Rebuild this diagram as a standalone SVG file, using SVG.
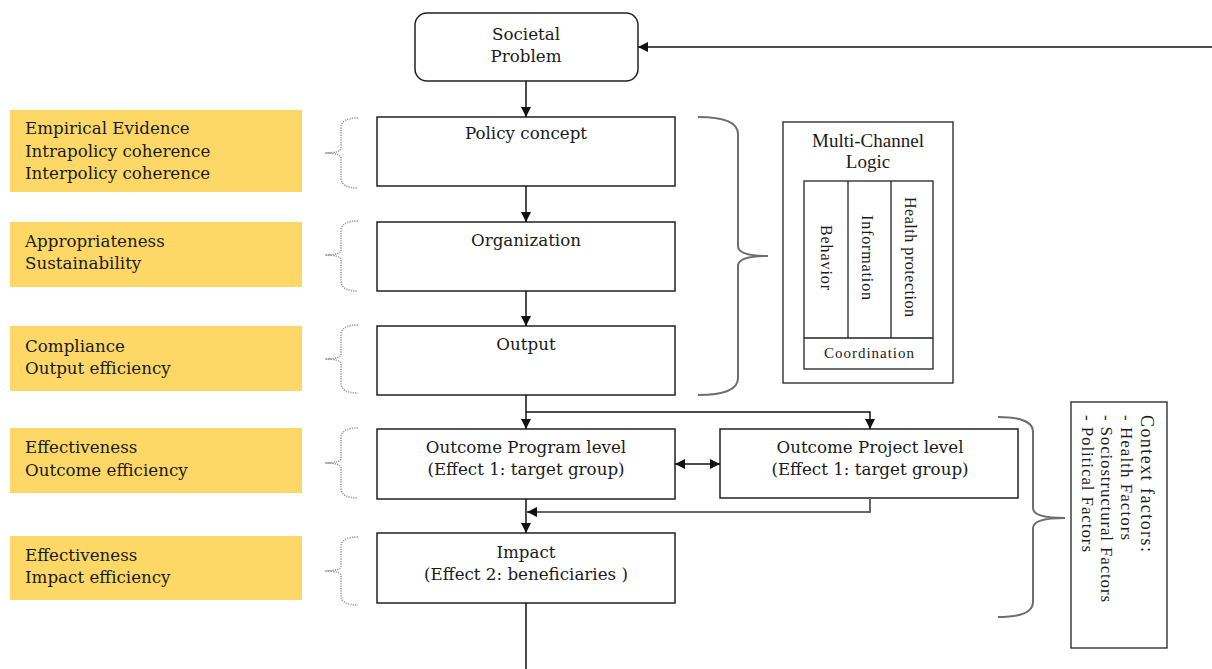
<svg xmlns="http://www.w3.org/2000/svg" width="1212" height="669" viewBox="0 0 1212 669">
<defs>
<style>
.t{font-family:"DejaVu Serif","Liberation Serif",serif;font-size:16.7px;fill:#1a1a1a}
.c{text-anchor:middle}
.tm{font-family:"Liberation Serif","DejaVu Serif",serif;fill:#1a1a1a}
.y{fill:#FDD866;stroke:none}
.box{fill:#fff;stroke:#222;stroke-width:1.5}
.thin{fill:none;stroke:#222;stroke-width:1.3}
.dbrace{fill:none;stroke:#999;stroke-width:1.6;stroke-dasharray:1.2 1.2}
.brace{fill:none;stroke:#6e6e6e;stroke-width:2}
.ln{fill:none;stroke:#111;stroke-width:1.5}
.gl{fill:none;stroke:#666;stroke-width:2}
</style>
<marker id="ah" viewBox="0 0 10 10" refX="10" refY="5" markerWidth="10" markerHeight="10" markerUnits="userSpaceOnUse" orient="auto-start-reverse">
<path d="M0,0 L10,5 L0,10 z" fill="#111"/>
</marker>
</defs>

<g id="criteria">
<g id="crit1"><rect class="y" x="10" y="110" width="292" height="82"/>
<text class="t" x="25" y="134">Empirical Evidence</text>
<text class="t" x="25" y="157">Intrapolicy coherence</text>
<text class="t" x="25" y="179">Interpolicy coherence</text></g>
<g id="crit2"><rect class="y" x="10" y="222" width="292" height="65"/>
<text class="t" x="25" y="247">Appropriateness</text>
<text class="t" x="25" y="269">Sustainability</text></g>
<g id="crit3"><rect class="y" x="10" y="326" width="292" height="65"/>
<text class="t" x="25" y="352">Compliance</text>
<text class="t" x="25" y="374">Output efficiency</text></g>
<g id="crit4"><rect class="y" x="10" y="428" width="292" height="65"/>
<text class="t" x="25" y="453">Effectiveness</text>
<text class="t" x="25" y="476">Outcome efficiency</text></g>
<g id="crit5"><rect class="y" x="10" y="536" width="292" height="64"/>
<text class="t" x="25" y="561">Effectiveness</text>
<text class="t" x="25" y="583">Impact efficiency</text></g>
</g>

<g id="dotted-braces">
<path class="dbrace" d="M358,118 Q341,118 341,128 L341,148 Q341,153 325,153 Q341,153 341,158 L341,178 Q341,188 358,188"/>
<path class="dbrace" d="M358,221 Q341,221 341,231 L341,250 Q341,255 325,255 Q341,255 341,260 L341,281 Q341,291 358,291"/>
<path class="dbrace" d="M358,325 Q341,325 341,335 L341,354 Q341,359 325,359 Q341,359 341,364 L341,383 Q341,393 358,393"/>
<path class="dbrace" d="M358,428 Q341,428 341,438 L341,458 Q341,463 325,463 Q341,463 341,468 L341,488 Q341,498 358,498"/>
<path class="dbrace" d="M358,537 Q341,537 341,547 L341,566 Q341,571 325,571 Q341,571 341,576 L341,595 Q341,605 358,605"/>
</g>

<g id="societal">
<rect class="box" x="415" y="13" width="223" height="68" rx="12"/>
<text class="t c" x="526" y="40">Societal</text>
<text class="t c" x="526" y="62">Problem</text>
</g>
<g id="policy"><rect class="box" x="377" y="117" width="298" height="69"/>
<text class="t c" x="526" y="139">Policy concept</text></g>
<g id="organization"><rect class="box" x="377" y="222" width="298" height="69"/>
<text class="t c" x="526" y="246">Organization</text></g>
<g id="output"><rect class="box" x="377" y="326" width="298" height="69"/>
<text class="t c" x="526" y="350">Output</text></g>
<g id="program"><rect class="box" x="377" y="429" width="298" height="70"/>
<text class="t c" x="526" y="453">Outcome Program level</text>
<text class="t c" x="526" y="475">(Effect 1: target group)</text></g>
<g id="project"><rect class="box" x="720" y="429" width="298" height="69"/>
<text class="t c" x="870" y="453">Outcome Project level</text>
<text class="t c" x="870" y="475">(Effect 1: target group)</text></g>
<g id="impact"><rect class="box" x="377" y="533" width="298" height="70"/>
<text class="t c" x="526" y="558">Impact</text>
<text class="t c" x="526" y="580">(Effect 2: beneficiaries )</text></g>

<g id="big-brace">
<path class="brace" d="M698,117 Q738,117 738,134 L738,246 Q738,256 768,256 Q738,256 738,266 L738,378 Q738,395 698,395"/>
</g>

<g id="multichannel">
<rect class="thin" x="783" y="122" width="170" height="261"/>
<text class="tm c" x="868" y="147" font-size="19">Multi-Channel</text>
<text class="tm c" x="868" y="168" font-size="19">Logic</text>
<rect class="thin" x="804" y="181" width="129" height="188"/>
<line class="thin" x1="848" y1="181" x2="848" y2="338"/>
<line class="thin" x1="891" y1="181" x2="891" y2="338"/>
<line class="thin" x1="804" y1="338" x2="933" y2="338"/>
<text class="tm" font-size="16" transform="translate(821,225) rotate(90)" textLength="65" lengthAdjust="spacing">Behavior</text>
<text class="tm" font-size="16" transform="translate(862,215) rotate(90)" textLength="85" lengthAdjust="spacing">Information</text>
<text class="tm" font-size="16" transform="translate(905,197) rotate(90)" textLength="120" lengthAdjust="spacing">Health protection</text>
<text class="tm c" x="869" y="358" font-size="15" textLength="90" lengthAdjust="spacing">Coordination</text>
</g>

<g id="context-brace">
<path class="brace" d="M998,417 Q1033,417 1033,432 L1033,508 Q1033,518 1065,518 Q1033,518 1033,528 L1033,602 Q1033,617 998,617"/>
</g>

<g id="context">
<rect class="thin" x="1071" y="402" width="96" height="246"/>
<text class="tm" font-size="18" transform="translate(1141,415) rotate(90)" textLength="137" lengthAdjust="spacing">Context factors:</text>
<text class="tm" font-size="17" transform="translate(1121,415) rotate(90)" textLength="125" lengthAdjust="spacing">- Health Factors</text>
<text class="tm" font-size="17" transform="translate(1101,415) rotate(90)" textLength="187" lengthAdjust="spacing">- Sociostructural Factors</text>
<text class="tm" font-size="17" transform="translate(1082,415) rotate(90)" textLength="137" lengthAdjust="spacing">- Political Factors</text>
</g>

<g id="connectors">
<line class="ln" x1="1212" y1="47" x2="638" y2="47" marker-end="url(#ah)"/>
<line class="ln" x1="526" y1="81" x2="526" y2="117" marker-end="url(#ah)"/>
<line class="ln" x1="526" y1="186" x2="526" y2="222" marker-end="url(#ah)"/>
<line class="ln" x1="526" y1="291" x2="526" y2="326" marker-end="url(#ah)"/>
<line class="ln" x1="526" y1="395" x2="526" y2="429" marker-end="url(#ah)"/>
<path class="ln" d="M526,412 L870,412 L870,429" marker-end="url(#ah)"/>
<line class="ln" x1="675" y1="464" x2="720" y2="464" marker-start="url(#ah)" marker-end="url(#ah)"/>
<path class="gl" d="M870,498 L870,512 L527,512" marker-end="url(#ah)"/>
<line class="ln" x1="526" y1="499" x2="526" y2="533" marker-end="url(#ah)"/>
<line class="ln" x1="526" y1="603" x2="526" y2="669"/>
</g>
</svg>
